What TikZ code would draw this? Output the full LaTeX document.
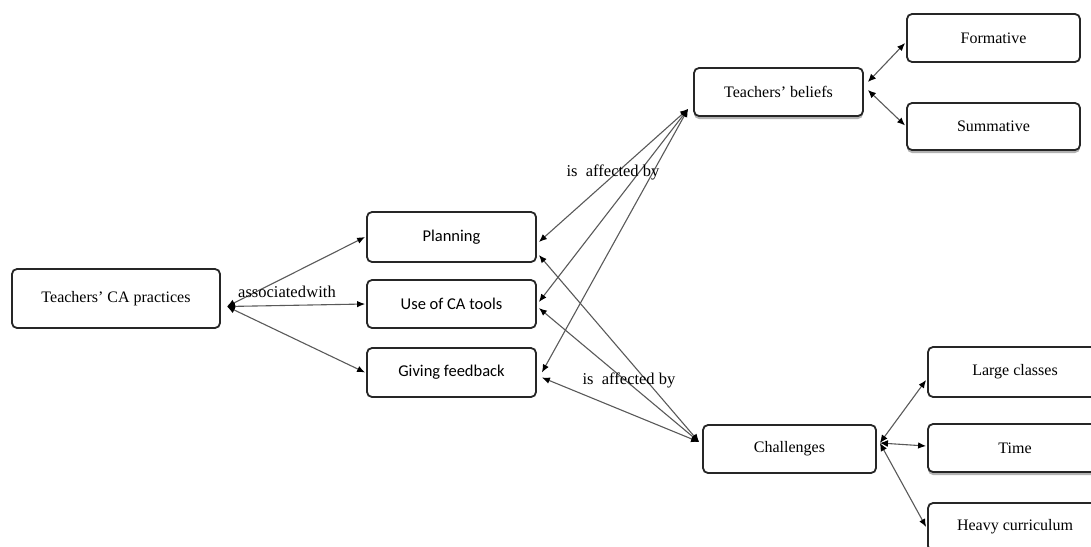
\documentclass[tikz,border=0pt]{standalone}
\usepackage{fontspec}
\setmainfont{Liberation Serif}
\newfontfamily\calfont{Carlito}
\usetikzlibrary{arrows.meta,shadows}
\begin{document}
\begin{tikzpicture}[x=1pt,y=-1pt,
  box/.style={draw=black!85,line width=1.8pt,rounded corners=5pt,fill=white,
    inner sep=0pt,font=\fontsize{16}{18}\selectfont},
  midbox/.style={box,font=\calfont\fontsize{16.5}{18}\selectfont},
  shade/.style={drop shadow={fill=gray!60,opacity=1,shadow xshift=0pt,shadow yshift=-3pt}},
  link/.style={draw=black!65,line width=1.1pt,
    {Latex[length=8pt,width=7pt,color=black]}-{Latex[length=8pt,width=6.5pt,color=black]}},
  lab/.style={font=\fontsize{16.5}{18}\selectfont,inner sep=1pt}]
\useasboundingbox (0,0) rectangle (1091,546);
% nodes
\node[box,minimum width=208,minimum height=59] (ca) at (116,298.5) {Teachers' CA practices};
\node[midbox,minimum width=169,minimum height=50] (plan) at (451.5,237) {Planning};
\node[midbox,minimum width=169,minimum height=48] (use) at (451.5,304) {Use of CA tools};
\node[midbox,minimum width=169,minimum height=49] (give) at (451.5,372.5) {Giving feedback};
\node[box,shade,minimum width=169,minimum height=48] (tb) at (778.5,92) {Teachers' beliefs};
\node[box,minimum width=173,minimum height=48] (form) at (993.5,38) {Formative};
\node[box,shade,minimum width=173,minimum height=47] (summ) at (993.5,126.5) {Summative};
\node[box,minimum width=173,minimum height=48] (chal) at (789.5,449) {Challenges};
\node[box,minimum width=174,minimum height=50] (large) at (1015,372) {Large classes};
\node[box,shade,minimum width=174,minimum height=48] (time) at (1015,448) {Time};
\node[box,minimum width=174,minimum height=48] (heavy) at (1015,527) {Heavy curriculum};
% connectors: associated with
\draw[link] ([xshift=6pt,yshift=-8pt]ca.east) -- ([xshift=-1pt]plan.west);
\draw[link] ([xshift=6pt,yshift=-8pt]ca.east) -- ([xshift=-1pt]use.west);
\draw[link] ([xshift=6pt,yshift=-8pt]ca.east) -- ([xshift=-1pt]give.west);
% teachers' beliefs
\draw[link] ([xshift=-5pt,yshift=8pt]tb.south west) -- ([xshift=2pt,yshift=-5pt]plan.east);
\draw[link] ([xshift=-5pt,yshift=8pt]tb.south west) -- ([xshift=2pt,yshift=2pt]use.east);
\draw[link] ([xshift=-5pt,yshift=8pt]tb.south west) -- ([xshift=5pt,yshift=0pt]give.east);
% challenges
\draw[link] ([xshift=-3pt,yshift=7pt]chal.west) -- ([xshift=2pt,yshift=-18pt]plan.east);
\draw[link] ([xshift=-3pt,yshift=7pt]chal.west) -- ([xshift=2pt,yshift=-4pt]use.east);
\draw[link] ([xshift=-3pt,yshift=7pt]chal.west) -- ([xshift=5pt,yshift=-5pt]give.east);
% beliefs to types
\draw[link] ([xshift=4pt,yshift=10pt]tb.east) -- ([xshift=-1pt,yshift=-5pt]form.west);
\draw[link] ([xshift=4pt,yshift=2pt]tb.east) -- ([xshift=-1pt,yshift=1pt]summ.west);
% challenges to types
\draw[link] ([xshift=3pt,yshift=6pt]chal.east) -- ([xshift=-1pt,yshift=-8pt]large.west);
\draw[link] ([xshift=3pt,yshift=6pt]chal.east) -- ([xshift=-1pt,yshift=2pt]time.west);
\draw[link] ([xshift=3pt,yshift=6pt]chal.east) -- ([xshift=-1pt,yshift=0pt]heavy.west);
% labels
\node[lab] (l1) at (287,292) {associated\hspace{0.5pt}with};
\node[lab] (l2) at (613,172) {is\ \ affected by};
\node[lab] (l3) at (629,380) {is\ \ affected by};
\end{tikzpicture}
\end{document}
